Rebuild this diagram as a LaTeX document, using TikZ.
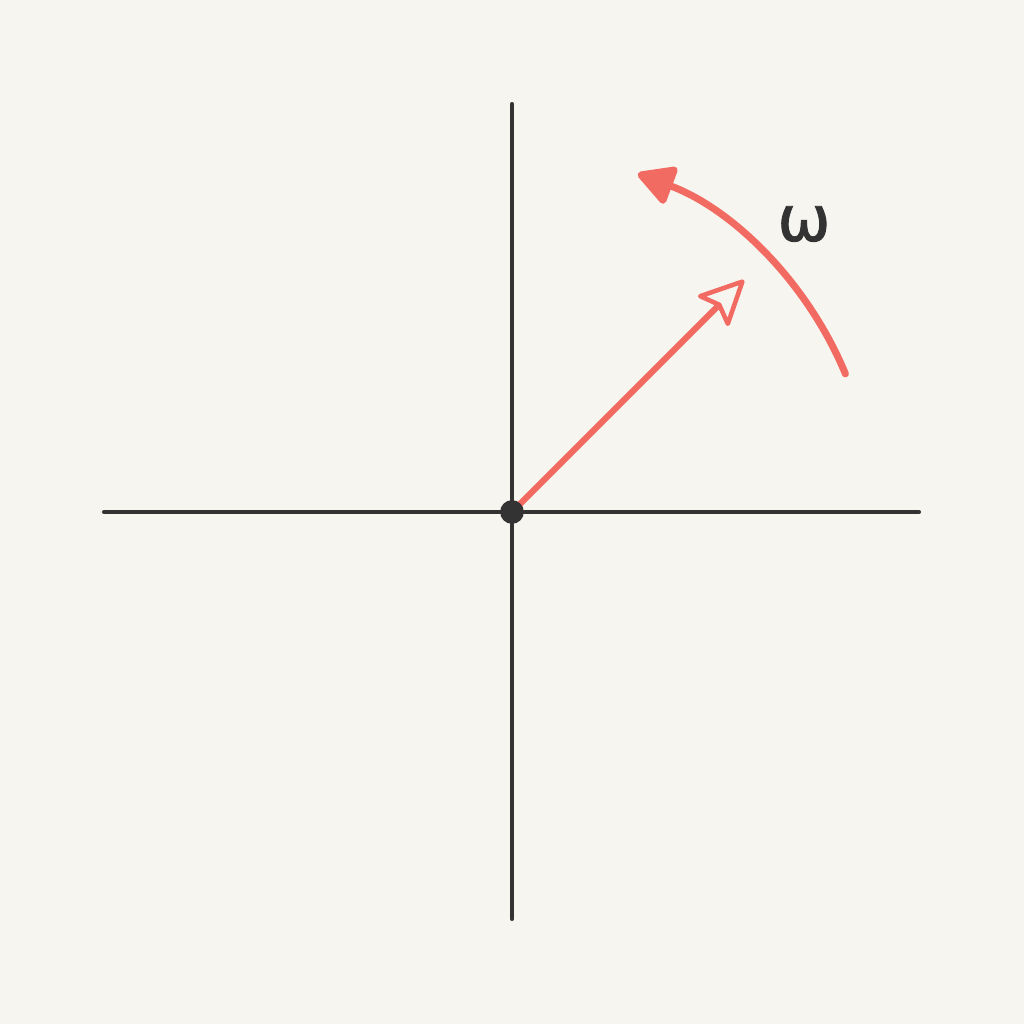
\documentclass[tikz,border=0pt]{standalone}
\usepackage{fontspec}
\setmainfont{DejaVu Sans}
\newfontface\omegafont[FakeBold=1.5]{DejaVu Sans}
\usetikzlibrary{arrows.meta}
\definecolor{bg}{HTML}{F7F5F0}
\definecolor{ink}{HTML}{333333}
\definecolor{redc}{HTML}{F26B62}
\begin{document}
\begin{tikzpicture}[x=0.02cm,y=0.02cm,
  axis/.style={draw=ink,line width=2.3pt,line cap=round},
  vec/.style={draw=redc,line width=3.5pt,line cap=round},
  rot/.style={draw=redc,line width=4pt,line cap=round}]
\fill[bg] (-512,-512) rectangle (512,512);
\useasboundingbox (-512,-512) rectangle (512,512);
\coordinate (xl) at (-408,0);
\coordinate (xr) at (407,0);
\coordinate (yt) at (0,408);
\coordinate (yb) at (0,-407);
\coordinate (tip) at (232,232);
\coordinate (as) at (22.5:7.22cm);
\draw[axis] (xl) -- (xr);
\draw[axis] (yb) -- (yt);
\draw[vec,-{Stealth[open,length=28pt,width=27pt,inset=5pt,round,line width=2.6pt]}] (0,0) -- (tip);
\draw[rot,-{Triangle[length=23pt,width=24pt,round]}] (as) arc[start angle=22.5,end angle=69.6,radius=7.22cm];
\node[circle,fill=ink,inner sep=0pt,minimum size=13.5pt] (O) at (0,0) {};
\node[text=ink,font=\omegafont\fontsize{36}{40}\selectfont] (w) at (292,288) {ω};
\end{tikzpicture}
\end{document}
